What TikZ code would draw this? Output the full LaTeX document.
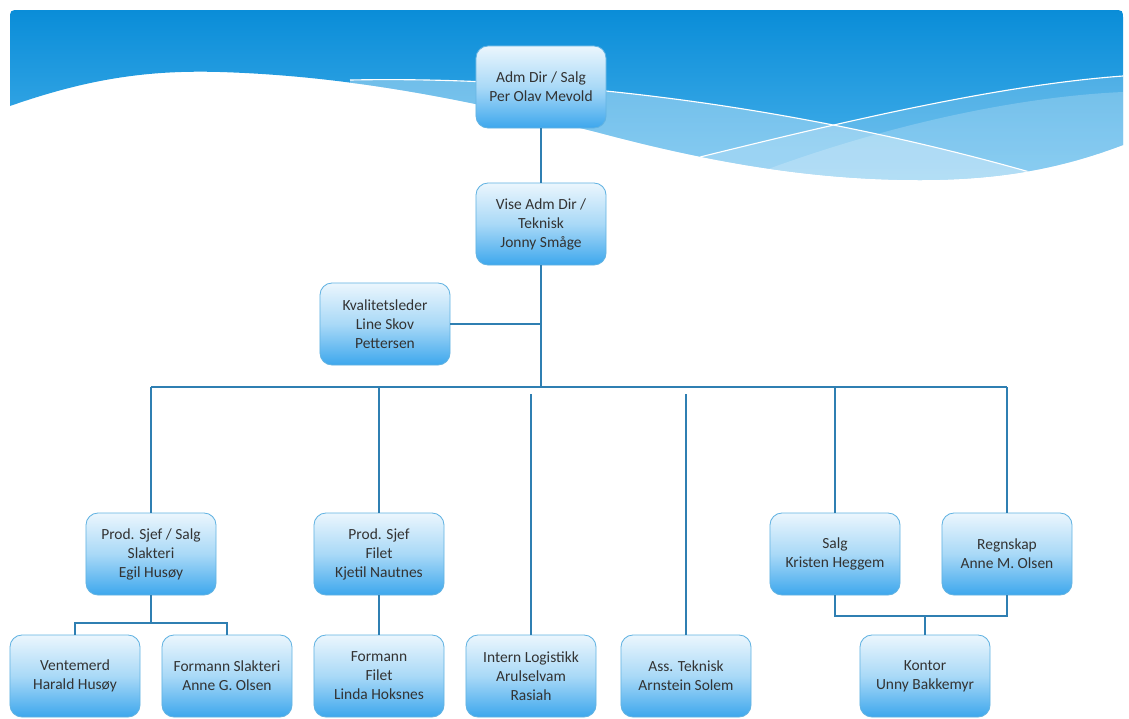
\documentclass[tikz,border=0pt]{standalone}
\usepackage{fontspec}
\setmainfont{Carlito}
\usetikzlibrary{positioning}

\definecolor{bannertop}{HTML}{0A8DD8}
\definecolor{bannerbot}{HTML}{4AB2EB}
\definecolor{boxtop}{HTML}{EBF6FD}
\definecolor{boxmid}{HTML}{A9D9F7}
\definecolor{boxbot}{HTML}{3DA7ED}
\definecolor{boxline}{HTML}{62B3E2}
\definecolor{linkblue}{HTML}{2F7FB2}
\definecolor{boxtext}{HTML}{333333}

\begin{document}
\begin{tikzpicture}[x=0.025cm,y=-0.025cm,
  box/.style={draw=boxline,line width=0.6pt,rounded corners=0.3cm,top color=boxtop,bottom color=boxbot,middle color=boxmid,minimum width=3.25cm,minimum height=2.05cm,align=center,font=\fontsize{11}{13.5}\selectfont,text=boxtext,inner sep=2pt},
  link/.style={draw=linkblue,line width=1.9pt}]
\fill[white] (0,0) rectangle (1129,718);
\useasboundingbox (0,0) rectangle (1129,718);
\path[top color=bannertop,bottom color=bannerbot,save path=\banner] (10,106) .. controls (90,78) and (150,70) .. (220,72) .. controls (350,76) and (470,100) .. (600,133) .. controls (720,165) and (820,180) .. (920,180) .. controls (1010,180) and (1070,165) .. (1123,145) -- (1123,20) .. controls (1123,10) .. (1113,10) -- (20,10) .. controls (10,10) .. (10,20) -- cycle;
\begin{scope}
\clip[use path=\banner];
\fill[white,opacity=0.35] (350,80) .. controls (600,75) and (850,120) .. (1040,175) -- (1040,230) -- (350,230) -- cycle;
\fill[white,opacity=0.2] (700,157) .. controls (850,120) and (1000,85) .. (1123,76) -- (1123,230) -- (700,230) -- cycle;
\fill[white,opacity=0.2] (760,172) .. controls (900,120) and (1030,96) .. (1123,92) -- (1123,230) -- (760,230) -- cycle;
\draw[white,line width=0.8pt] (350,80) .. controls (600,75) and (850,120) .. (1040,175);
\draw[white,line width=0.8pt] (700,157) .. controls (850,120) and (1000,85) .. (1123,76);
\end{scope}

\node[box] (adm) at (541,87) {Adm Dir / Salg\\Per Olav Mevold};
\node[box] (vise) at (541,224) {Vise Adm Dir /\\Teknisk\\Jonny Småge};
\node[box] (kval) at (385,324) {Kvalitetsleder\\Line Skov\\Pettersen};
\node[box] (prodsalg) at (151,554) {Prod. Sjef / Salg\\Slakteri\\Egil Husøy};
\node[box] (prodfilet) at (379,554) {Prod. Sjef\\Filet\\Kjetil Nautnes};
\node[box] (salg) at (835,554) {Salg\\Kristen Heggem};
\node[box] (regnskap) at (1007,554) {Regnskap\\Anne M. Olsen};
\node[box] (ventemerd) at (75,676) {Ventemerd\\Harald Husøy};
\node[box] (formslakt) at (227,676) {Formann Slakteri\\Anne G. Olsen};
\node[box] (formfilet) at (379,676) {Formann\\Filet\\Linda Hoksnes};
\node[box] (intlog) at (531,676) {Intern Logistikk\\Arulselvam\\Rasiah};
\node[box] (assteknisk) at (686,676) {Ass. Teknisk\\Arnstein Solem};
\node[box] (kontor) at (925,676) {Kontor\\Unny Bakkemyr};

\coordinate (bus) at (541,387);
\coordinate (gap) at (541,394);
\coordinate (subsalg) at (151,623);
\coordinate (subkontor) at (925,616);

\draw[link] (adm) -- (vise);
\draw[link] (vise.south) -- (bus);
\draw[link] (kval.east) -- (kval.east -| bus);
\draw[link] (prodsalg.north |- bus) -- (regnskap.north |- bus);
\draw[link] (prodsalg.north |- bus) -- (prodsalg.north);
\draw[link] (prodfilet.north |- bus) -- (prodfilet.north);
\draw[link] (salg.north |- bus) -- (salg.north);
\draw[link] (regnskap.north |- bus) -- (regnskap.north);
\draw[link] (intlog.north |- gap) -- (intlog.north);
\draw[link] (assteknisk.north |- gap) -- (assteknisk.north);
\draw[link] (prodsalg.south) -- (subsalg);
\draw[link] (ventemerd.north) -- (ventemerd.north |- subsalg) -- (formslakt.north |- subsalg) -- (formslakt.north);
\draw[link] (prodfilet) -- (formfilet);
\draw[link] (salg.south) -- (salg.south |- subkontor) -- (regnskap.south |- subkontor) -- (regnskap.south);
\draw[link] (subkontor) -- (kontor.north);
\end{tikzpicture}
\end{document}
